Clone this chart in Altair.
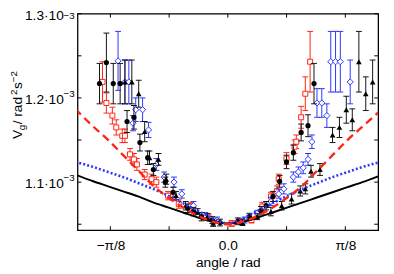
import math
import altair as alt
import pandas as pd

FONT = "Liberation Sans"
W, H = 307, 221
X_DOM = [-0.5025, 0.5025]
Y_DOM = [1.043, 1.3]          # units of 1e-3 rad^2 s^-2

# ---- model curves ----
curve_theta = [-0.51, -0.45, -0.4, -0.35, -0.3, -0.25, -0.2, -0.15, -0.1, -0.05, 0.0,
               0.05, 0.1, 0.15, 0.2, 0.25, 0.3, 0.35, 0.4, 0.45, 0.51]
curve_black = [1.109, 1.101, 1.095, 1.089, 1.083, 1.076, 1.070, 1.064, 1.058, 1.053, 1.051,
               1.053, 1.058, 1.064, 1.070, 1.076, 1.082, 1.088, 1.094, 1.100, 1.108]
curve_blue = [1.124, 1.118, 1.112, 1.106, 1.099, 1.092, 1.084, 1.075, 1.066, 1.057, 1.051,
              1.057, 1.066, 1.075, 1.084, 1.092, 1.099, 1.106, 1.112, 1.118, 1.124]
curve_red = [1.187, 1.166, 1.150, 1.132, 1.114, 1.096, 1.082, 1.070, 1.060, 1.053, 1.050,
             1.053, 1.060, 1.070, 1.082, 1.096, 1.114, 1.132, 1.150, 1.166, 1.185]

# ---- measured points ----
circ_theta = [-0.429, -0.406, -0.383, -0.360, -0.337, -0.314, -0.294, -0.268, -0.249, -0.209, -0.183,
              -0.134, -0.115, -0.088, -0.052, -0.026,
              0.033, 0.072, 0.111, 0.128, 0.151, 0.173, 0.196, 0.219, 0.245, 0.268, 0.288]
circ_v = [1.217, 1.242, 1.217, 1.217, 1.172, 1.177, 1.147, 1.129, 1.115, 1.100, 1.088,
          1.069, 1.065, 1.059, 1.055, 1.052,
          1.0535, 1.059, 1.066, 1.072, 1.083, 1.101, 1.124, 1.135, 1.159, 1.167, 1.217]
circ_err = [.024, .035, .024, .024, .013, .014, .010, .008, .007, .006, .006,
            .005, .005, .005, .004, .004,
            .004, .004, .005, .005, .006, .007, .008, .009, .010, .013, .024]

tri_theta = [-0.344, -0.321, -0.298, -0.278, -0.262, -0.232, -0.206, -0.173, -0.141, -0.101, -0.069, -0.049,
             0.049, 0.098, 0.144, 0.180, 0.213, 0.242, 0.259, 0.278, 0.308, 0.350, 0.373, 0.396,
             0.416, 0.438, 0.461, 0.484]
tri_v = [1.219, 1.219, 1.205, 1.160, 1.129, 1.127, 1.1035, 1.084, 1.072, 1.065, 1.059, 1.051,
         1.052, 1.059, 1.065, 1.072, 1.080, 1.0895, 1.092, 1.113, 1.115, 1.156, 1.165, 1.186,
         1.174, 1.243, 1.205, 1.219]
tri_err = [.026, .026, .016, .012, .008, .007, .006, .005, .005, .0035, .0035, .0035,
           .0035, .0035, .005, .005, .006, .006, .006, .007, .007, .009, .012, .016,
           .013, .036, .020, .026]

sq_theta = [-0.419, -0.406, -0.386, -0.373, -0.353, -0.344, -0.327, -0.314, -0.304, -0.278, -0.255,
            -0.239, -0.200, -0.183, -0.164, -0.124, -0.065,
            0.013, 0.039, 0.079, 0.115, 0.144, 0.164, 0.170, 0.196, 0.223, 0.229, 0.245, 0.259, 0.275]
sq_v = [1.219, 1.194, 1.179, 1.165, 1.155, 1.155, 1.133, 1.127, 1.121, 1.109, 1.1035,
        1.100, 1.084, 1.083, 1.074, 1.072, 1.059,
        1.051, 1.0535, 1.055, 1.071, 1.083, 1.0895, 1.1035, 1.128, 1.142, 1.148, 1.177, 1.205, 1.243]
sq_err = [.024, .012, .010, .009, .008, .008, .007, .007, .007, .006, .006,
          .006, .005, .005, .005, .0035, .0035,
          .0035, .0035, .0035, .005, .005, .006, .006, .007, .008, .008, .013, .020, .036]

dia_theta = [-0.367, -0.344, -0.331, -0.317, -0.308, -0.285, -0.265, -0.239, -0.213, -0.180, -0.154,
             -0.115, -0.075, -0.036,
             0.056, 0.098, 0.144, 0.170, 0.187, 0.219, 0.236, 0.252, 0.268, 0.281, 0.298, 0.314,
             0.331, 0.344, 0.360, 0.376, 0.409]
dia_v = [1.244, 1.219, 1.219, 1.170, 1.186, 1.186, 1.162, 1.121, 1.106, 1.100, 1.086,
         1.072, 1.0605, 1.055,
         1.055, 1.063, 1.077, 1.086, 1.092, 1.106, 1.112, 1.117, 1.127, 1.148, 1.194, 1.194,
         1.179, 1.243, 1.243, 1.243, 1.219]
dia_err = [.035, .026, .026, .009, .014, .014, .009, .007, .006, .006, .005,
           .005, .0035, .0035,
           .0035, .0035, .005, .005, .006, .006, .006, .007, .007, .008, .017, .017,
           .014, .036, .036, .036, .026]

# ---- axes ----
xtick_vals = [-math.pi / 8, -math.pi / 16, 0.0, math.pi / 16, math.pi / 8]
xlab_vals = [-math.pi / 8, 0.0, math.pi / 8]
xlab_text = ["−π/8", "0.0", "π/8"]
ytick_vals = [1.05, 1.1, 1.15, 1.2, 1.25, 1.3]
ylab_vals = [1.1, 1.2, 1.3]
ylab_main = ["1.1·10", "1.2·10", "1.3·10"]
ylab_sup = ["−3", "−3", "−3"]

RED = "#ff2414"
BLUE = "#2b35ff"
BLACK = "#000000"

xs = alt.Scale(domain=X_DOM, nice=False, zero=False)
ys = alt.Scale(domain=Y_DOM, nice=False, zero=False)

expr = "''"
for v, t in zip(reversed(xlab_vals), reversed(xlab_text)):
    expr = f"abs(datum.value - ({v})) < 1e-6 ? '{t}' : ({expr})"

xaxis = alt.Axis(values=xlab_vals, labelExpr=expr, ticks=False, domain=False, grid=False,
                 labelFont=FONT, labelFontSize=14, labelColor="black", labelPadding=9,
                 title="angle / rad", titleFont=FONT, titleFontSize=14, titleFontWeight="normal",
                 titleColor="black", titlePadding=3)


def X(field):
    return alt.X(field, type="quantitative", scale=xs, axis=xaxis)


def Y(field):
    return alt.Y(field, type="quantitative", scale=ys, axis=None)


def sdf(th, v, e):
    return pd.DataFrame({"theta": th, "V": v,
                         "lo": [a - b for a, b in zip(v, e)],
                         "hi": [a + b for a, b in zip(v, e)]})


def series_layers(df, color, point_mark):
    bars = alt.Chart(df).mark_rule(color=color, strokeWidth=1).encode(
        x=X("theta"), y=Y("lo"), y2="hi:Q")
    cap_lo = alt.Chart(df).mark_tick(color=color, size=6, thickness=1, orient="horizontal",
                                     opacity=1).encode(x=X("theta"), y=Y("lo"))
    cap_hi = alt.Chart(df).mark_tick(color=color, size=6, thickness=1, orient="horizontal",
                                     opacity=1).encode(x=X("theta"), y=Y("hi"))
    pts = alt.Chart(df).mark_point(**point_mark).encode(x=X("theta"), y=Y("V"))
    return [bars, cap_lo, cap_hi, pts]


layers = []
layers += series_layers(sdf(sq_theta, sq_v, sq_err), RED,
                        dict(shape="square", filled=True, fill="white", stroke=RED,
                             strokeWidth=1, size=26, opacity=1))
layers += series_layers(sdf(dia_theta, dia_v, dia_err), BLUE,
                        dict(shape="diamond", filled=True, fill="white", stroke=BLUE,
                             strokeWidth=1, size=40, opacity=1))
layers += series_layers(sdf(circ_theta, circ_v, circ_err), "#111111",
                        dict(shape="circle", filled=True, color=BLACK, size=28, opacity=1))
layers += series_layers(sdf(tri_theta, tri_v, tri_err), "#111111",
                        dict(shape="triangle-up", filled=True, color=BLACK, size=34, opacity=1))

cdf = pd.DataFrame({"theta": curve_theta, "black": curve_black, "blue": curve_blue, "red": curve_red})
layers.append(alt.Chart(cdf).mark_line(color=BLACK, strokeWidth=2, interpolate="monotone",
                                       clip=True).encode(x=X("theta"), y=Y("black")))
layers.append(alt.Chart(cdf).mark_line(color=BLUE, strokeWidth=2.6, strokeDash=[2, 2.2],
                                       interpolate="monotone", clip=True).encode(
    x=X("theta"), y=Y("blue")))
layers.append(alt.Chart(cdf).mark_line(color=RED, strokeWidth=2.4, strokeDash=[8, 5],
                                       interpolate="monotone", clip=True).encode(
    x=X("theta"), y=Y("red")))

# inward ticks on all four sides
ydf = pd.DataFrame({"v": ytick_vals})
xdf = pd.DataFrame({"t": xtick_vals})
layers.append(alt.Chart(ydf).mark_rule(color="black", strokeWidth=1).encode(
    y=Y("v"), x=alt.value(0), x2=alt.value(4)))
layers.append(alt.Chart(ydf).mark_rule(color="black", strokeWidth=1).encode(
    y=Y("v"), x=alt.value(W - 4), x2=alt.value(W)))
layers.append(alt.Chart(xdf).mark_rule(color="black", strokeWidth=1).encode(
    x=X("t"), y=alt.value(0), y2=alt.value(4)))
layers.append(alt.Chart(xdf).mark_rule(color="black", strokeWidth=1).encode(
    x=X("t"), y=alt.value(H - 4), y2=alt.value(H)))

# y tick labels with superscript exponent
ylab_df = pd.DataFrame({"v": ylab_vals, "main": ylab_main, "sup": ylab_sup})
ylab_low = ylab_df[ylab_df.v < 1.25]
ylab_top = ylab_df[ylab_df.v >= 1.25]
layers.append(alt.Chart(ylab_df).mark_text(align="right", baseline="middle", font=FONT,
                                           fontSize=14, dy=2, color="black").encode(
    y=Y("v"), x=alt.value(-14), text="main:N"))
layers.append(alt.Chart(ylab_low).mark_text(align="right", baseline="middle", font=FONT,
                                            fontSize=10, dy=-4, color="black").encode(
    y=Y("v"), x=alt.value(-3), text="sup:N"))
layers.append(alt.Chart(ylab_top).mark_text(align="right", baseline="top", font=FONT,
                                            fontSize=10, dy=-3, color="black").encode(
    y=Y("v"), x=alt.value(-3), text="sup:N"))

# y axis title: V_g / rad^2 s^-2
title_parts = [("V", 14, -57, 128), ("g", 10, -54, 119), (" / rad", 14, -57, 113),
               ("2", 10, -62, 83), ("s", 14, -57, 77), ("−2", 10, -62, 70)]
for txt, fs, xv, yv in title_parts:
    layers.append(alt.Chart(pd.DataFrame({"t": [txt]})).mark_text(
        angle=270, align="left", baseline="alphabetic", font=FONT, fontSize=fs,
        color="black").encode(text="t:N", x=alt.value(xv), y=alt.value(yv)))

chart = alt.layer(*layers).properties(
    width=W, height=H,
    autosize=alt.AutoSizeParams(type="none"),
    padding={"left": 71, "top": 3, "right": 8, "bottom": 44},
    background="white",
).configure_view(stroke="black", strokeWidth=1.3)

chart.save("out.html", embed_options={"renderer": "svg", "actions": False})
